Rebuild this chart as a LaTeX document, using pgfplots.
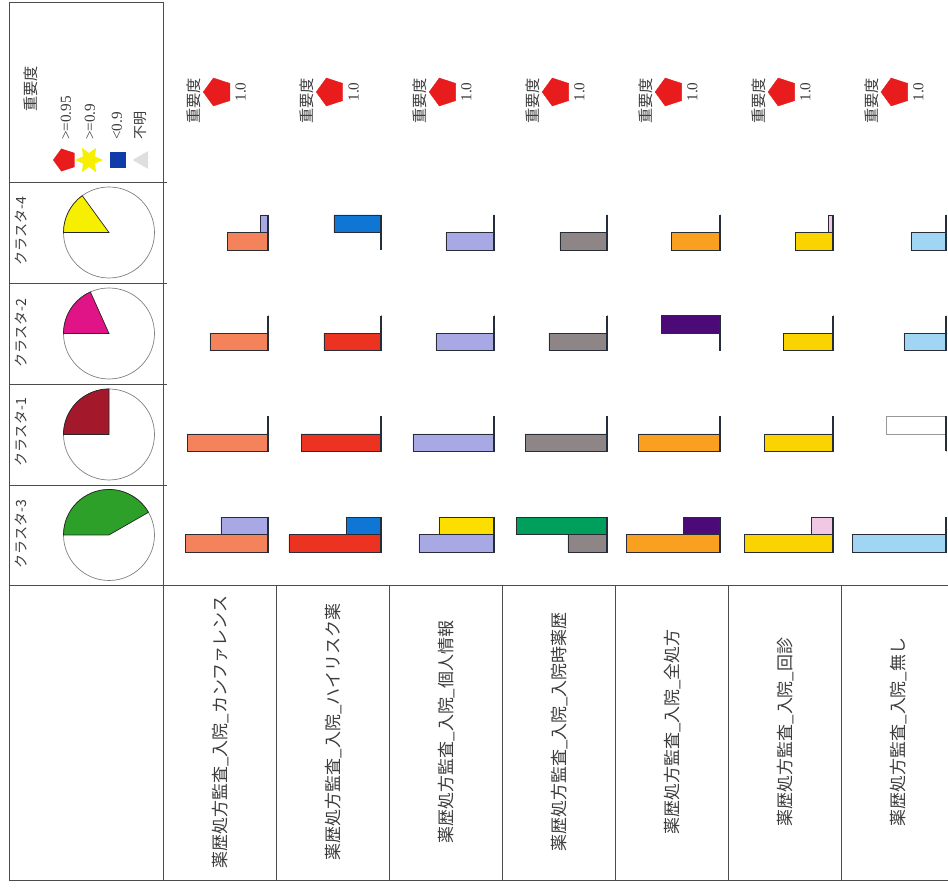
\documentclass[border=0pt]{standalone}
\usepackage{fontspec}
\setmainfont{Liberation Serif}
\newfontfamily\jp{Noto Sans CJK JP}
\usepackage{pgfplots}
\usepackage{pgfplotstable}
\pgfplotsset{compat=1.18}
\usetikzlibrary{shapes.geometric, plotmarks}

% bar colours
\definecolor{cCoral}{RGB}{244,130,90}
\definecolor{cLav}{RGB}{168,168,228}
\definecolor{cRed}{RGB}{236,50,32}
\definecolor{cBlue}{RGB}{16,118,214}
\definecolor{cYel}{RGB}{252,222,0}
\definecolor{cGray}{RGB}{142,134,134}
\definecolor{cGreen}{RGB}{0,160,92}
\definecolor{cOrange}{RGB}{250,160,32}
\definecolor{cPurple}{RGB}{76,10,120}
\definecolor{cGold}{RGB}{250,212,0}
\definecolor{cPink}{RGB}{240,200,228}
\definecolor{cSky}{RGB}{160,214,244}
\definecolor{barline}{RGB}{40,44,52}
\definecolor{baseln}{RGB}{36,46,58}
% pie / legend colours
\definecolor{pYel}{RGB}{246,240,0}
\definecolor{pMag}{RGB}{224,20,134}
\definecolor{pRed}{RGB}{164,24,44}
\definecolor{pGreen}{RGB}{44,160,40}
\definecolor{impRed}{RGB}{232,28,28}
\definecolor{legBlue}{RGB}{16,60,170}
\definecolor{legGray}{RGB}{222,222,222}
\definecolor{txt}{RGB}{60,60,60}

% bar lengths per variable (lo = lower bar, up = upper bar); rows: 1 クラスタ-4, 2 クラスタ-2, 3 クラスタ-1, 4 クラスタ-3
\pgfplotstableread{
row c1lo c1up c2lo c2up c3lo c3up c4lo c4up c5lo c5up c6lo c6up c7lo c7up
1   41.0 7.6  0    47.3 48.3 0    47.3 0    48.3 0    37.3 5.0  35.0 0
2   58.3 0    57.3 0    58.3 0    58.3 0    0    58.3 49.3 0    42.0 0
3   81.0 0    80.0 0    81.3 0    81.7 0    81.7 0    68.3 0    0    59.3
4   82.6 47.3 92.3 35.0 75.3 55.3 39.3 90.7 93.3 36.7 88.3 21.7 93.3 0
}\bars

\pgfplotsset{
  barax/.style={hide axis, scale only axis, clip=false,
    width=3cm, height=12.09cm, xmin=0, xmax=100, x dir=reverse,
    ymin=0.5, ymax=4.5, y dir=reverse, anchor=center, bar width=0.1737},
  pieax/.style={hide axis, scale only axis, clip=false,
    width=2.73cm, height=2.73cm, xmin=-1, xmax=1, ymin=-1, ymax=1, anchor=center},
}

% #1 baseline x (px), #2 column, #3 lower bar style, #4 upper bar style
\newcommand{\barcol}[4]{%
\begin{axis}[barax, at={({(#1-50)*0.03cm},-11.505cm)}]
\addplot[xbar, bar shift=0.0869, draw=barline, line width=0.5pt, #3] table[x=c#2lo, y=row] {\bars};
\addplot[xbar, bar shift=-0.0869, draw=barline, line width=0.5pt, #4] table[x=c#2up, y=row] {\bars};
\addplot[baseln, line width=1.4pt, unbounded coords=jump] coordinates {
  (0,0.8263) (0,1.1737) (0,nan) (0,1.8263) (0,2.1737) (0,nan)
  (0,2.8263) (0,3.1737) (0,nan) (0,3.8263) (0,4.1737)};
\end{axis}}

% #1 centre y (px), #2 share in percent, #3 colour
\newcommand{\pie}[3]{%
\begin{axis}[pieax, at={(3.27cm,{-(#1)*0.03cm})}]
\draw[black!50, line width=0.6pt] (axis cs:0,0) circle[radius=1.365cm];
\filldraw[fill=#3, draw=black!85, line width=0.6pt] (axis cs:0,0) -- ++(180:1.365cm)
  arc[start angle=180, end angle={180-3.6*#2}, radius=1.365cm] -- cycle;
\end{axis}}

\begin{document}
\begin{tikzpicture}
\path[use as bounding box] (0,0) rectangle (28.44cm,-26.64cm);

\begin{scope}[x=0.03cm, y=-0.03cm]
% table frame
\begin{scope}[draw=black!70, line width=0.8pt]
\draw (9,2) -- (163,2);
\draw (9,2) -- (9,880);
\draw (163,2) -- (163,880);
\foreach \yy in {182,283,384,485} \draw (9,\yy) -- (167,\yy);
\draw (9,585) -- (948,585);
\draw (9,880) -- (948,880);
\foreach \k in {1,...,6} \draw ({164+112.95*\k},585) -- ({164+112.95*\k},880);
\end{scope}

% legend of importance
\node[rotate=90, anchor=west, text=txt, font={\jp\fontsize{13pt}{13pt}\selectfont}] at (31,116) {重要度};
\node[regular polygon, regular polygon sides=5, rotate=90, fill=impRed, minimum size=0.72cm, inner sep=0] at (65,160) {};
\node[star, star points=6, star point ratio=0.5, fill=pYel, minimum size=0.42cm, inner sep=0] at (89,160) {};
\node[rectangle, fill=legBlue, minimum size=0.5cm, inner sep=0] at (118,160) {};
\node[regular polygon, regular polygon sides=3, rotate=90, fill=legGray, minimum size=0.62cm, inner sep=0] at (143,160) {};
\begin{scope}[every node/.style={rotate=90, anchor=west, text=txt, font=\fontsize{13pt}{13pt}\selectfont}]
\node at (66,144) {>=0.95};
\node at (90,144) {>=0.9};
\node at (117,144) {<0.9};
\node[font={\jp\fontsize{12pt}{12pt}\selectfont}] at (141,144) {不明};
\end{scope}

% cluster labels
\begin{scope}[every node/.style={rotate=90, anchor=east, text=txt, font={\jp\fontsize{12pt}{12pt}\selectfont}}]
\node at (21,193) {クラスタ-4};
\node at (21,295) {クラスタ-2};
\node at (21,394) {クラスタ-1};
\node at (21,496) {クラスタ-3};
\end{scope}

% importance captions
\foreach \k in {0,...,6}
  \node[rotate=90, anchor=west, text=txt, font={\jp\fontsize{13pt}{13pt}\selectfont}] at ({194+112.95*\k},128) {重要度};

% variable names
\begin{scope}[every node/.style={rotate=90, text=txt, font={\jp\fontsize{14.5pt}{14.5pt}\selectfont}}]
\node at (220.5,732) {薬歴処方監査\_入院\_カンファレンス};
\node at (333.4,732) {薬歴処方監査\_入院\_ハイリスク薬};
\node at (446.4,732) {薬歴処方監査\_入院\_個人情報};
\node at (559.3,732) {薬歴処方監査\_入院\_入院時薬歴};
\node at (672.3,732) {薬歴処方監査\_入院\_全処方};
\node at (785.2,732) {薬歴処方監査\_入院\_回診};
\node at (898.2,732) {薬歴処方監査\_入院\_無し};
\end{scope}
\end{scope}

% cluster shares
\pie{232.5}{15.0}{pYel}
\pie{333.5}{18.3}{pMag}
\pie{434.5}{25.0}{pRed}
\pie{535}{41.7}{pGreen}

% importance of each variable
\begin{axis}[hide axis, scale only axis, clip=false, width=23.72cm, height=1.2cm,
  xmin=0.5, xmax=7.5, ymin=0, ymax=2, at={(16.704cm,-2.76cm)}, anchor=center,
  /pgf/number format/assume math mode=true]
\addplot[only marks, mark=pentagon*, mark size=12.5pt,
  mark options={rotate=90, fill=impRed, draw=impRed},
  point meta=y,
  nodes near coords={\pgfmathprintnumber[fixed, fixed zerofill, precision=1]{\pgfplotspointmeta}},
  every node near coord/.append style={xshift=0.68cm, rotate=90, anchor=center, text=txt,
    font=\fontsize{13pt}{13pt}\selectfont}]
  coordinates {(1,1.0) (2,1.0) (3,1.0) (4,1.0) (5,1.0) (6,1.0) (7,1.0)};
\end{axis}

% bars
\barcol{268.3}{1}{fill=cCoral}{fill=cLav}
\barcol{381.25}{2}{fill=cRed}{fill=cBlue}
\barcol{494.2}{3}{fill=cLav}{fill=cYel}
\barcol{607.15}{4}{fill=cGray}{fill=cGreen}
\barcol{720.1}{5}{fill=cOrange}{fill=cPurple}
\barcol{833.05}{6}{fill=cGold}{fill=cPink}
\barcol{946}{7}{fill=cSky}{fill=white, draw=black!40}
\end{tikzpicture}
\end{document}
